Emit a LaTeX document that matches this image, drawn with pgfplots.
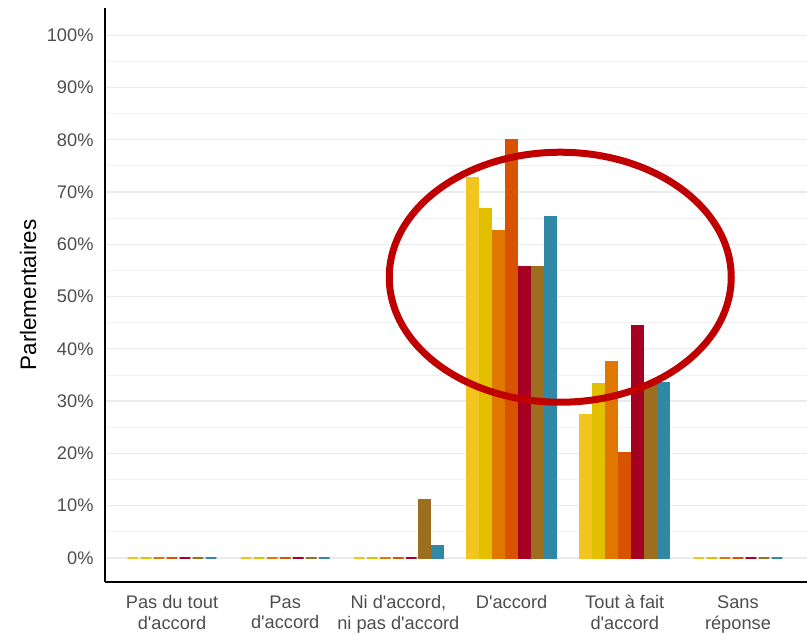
\documentclass[border=0pt]{standalone}
\usepackage{pgfplots}
\pgfplotsset{compat=1.18}
\usepackage{pgfplotstable}
\usetikzlibrary{calc}
\usepackage{fontspec}
\setmainfont{Liberation Sans}
\newcommand\ap{\textquotesingle}
\definecolor{c1}{HTML}{F2C41F}
\definecolor{c2}{HTML}{E2C000}
\definecolor{c3}{HTML}{E07800}
\definecolor{c4}{HTML}{D85300}
\definecolor{c5}{HTML}{A50021}
\definecolor{c6}{HTML}{9C6F20}
\definecolor{c7}{HTML}{2F89A5}
\definecolor{ellred}{HTML}{C00000}
\definecolor{tickgray}{HTML}{4D4D4D}
\definecolor{gridgray}{HTML}{EBEBEB}
\pgfplotstableread{
x s1 s2 s3 s4 s5 s6 s7
0 0 0 0 0 0 0 0
1 0 0 0 0 0 0 0
2 0 0 0 0 0 11.1 2.3
3 72.7 66.7 62.5 80 55.6 55.6 65.1
4 27.3 33.3 37.5 20 44.4 33.3 33.5
5 0 0 0 0 0 0 0
}\data
\begin{document}
\begin{tikzpicture}
\begin{axis}[
  name=ax,
  scale only axis, width=702bp, height=574bp,
  xmin=-0.592, xmax=5.61, ymin=-4.6, ymax=105.2,
  axis x line*=bottom, axis y line*=left,
  axis line style={-, line width=1.5bp, black},
  ytick={0,10,...,100}, minor ytick={5,15,...,95},
  ymajorgrids, yminorgrids,
  major grid style={gridgray, line width=1.3bp},
  minor grid style={gridgray!70, line width=0.8bp},
  major tick length=0pt, minor tick length=0pt,
  xtick={0,...,5},
  xticklabels={{Pas du tout\\d\ap accord},{Pas\\d\ap accord},{Ni d\ap accord,\\ni pas d\ap accord},{D\ap accord},{Tout à fait\\d\ap accord},{Sans\\réponse}},
  xticklabel style={align=center, yshift=-10bp},
  yticklabel={\pgfmathprintnumber{\tick}\%},
  yticklabel style={xshift=-8bp},
  tick label style={font=\fontsize{18.3}{21}\selectfont, text=tickgray},
  /pgf/number format/assume math mode=true,
  ylabel=Parlementaires,
  ylabel style={font=\fontsize{22.5}{26}\selectfont, at={(axis description cs:0,0.5)}, anchor=center, yshift=77bp},
  ybar, bar width=0.094,
  clip=false,
]
\addplot[fill=c1, draw=c1, line width=2.4bp, bar shift=-0.345] table[x=x,y=s1]{\data};
\addplot[fill=c2, draw=c2, line width=2.4bp, bar shift=-0.23] table[x=x,y=s2]{\data};
\addplot[fill=c3, draw=c3, line width=2.4bp, bar shift=-0.115] table[x=x,y=s3]{\data};
\addplot[fill=c4, draw=c4, line width=2.4bp, bar shift=0] table[x=x,y=s4]{\data};
\addplot[fill=c5, draw=c5, line width=2.4bp, bar shift=0.115] table[x=x,y=s5]{\data};
\addplot[fill=c6, draw=c6, line width=2.4bp, bar shift=0.23] table[x=x,y=s6]{\data};
\addplot[fill=c7, draw=c7, line width=2.4bp, bar shift=0.345] table[x=x,y=s7]{\data};
\draw[line width=7bp, color=ellred] (axis cs:3.43,53.7) ellipse [x radius=171bp, y radius=125bp];
\end{axis}
\pgfresetboundingbox
\path[use as bounding box] ($(ax.south west)+(-105bp,-52bp)$) rectangle ($(ax.north east)+(0bp,8bp)$);
\end{tikzpicture}
\end{document}
